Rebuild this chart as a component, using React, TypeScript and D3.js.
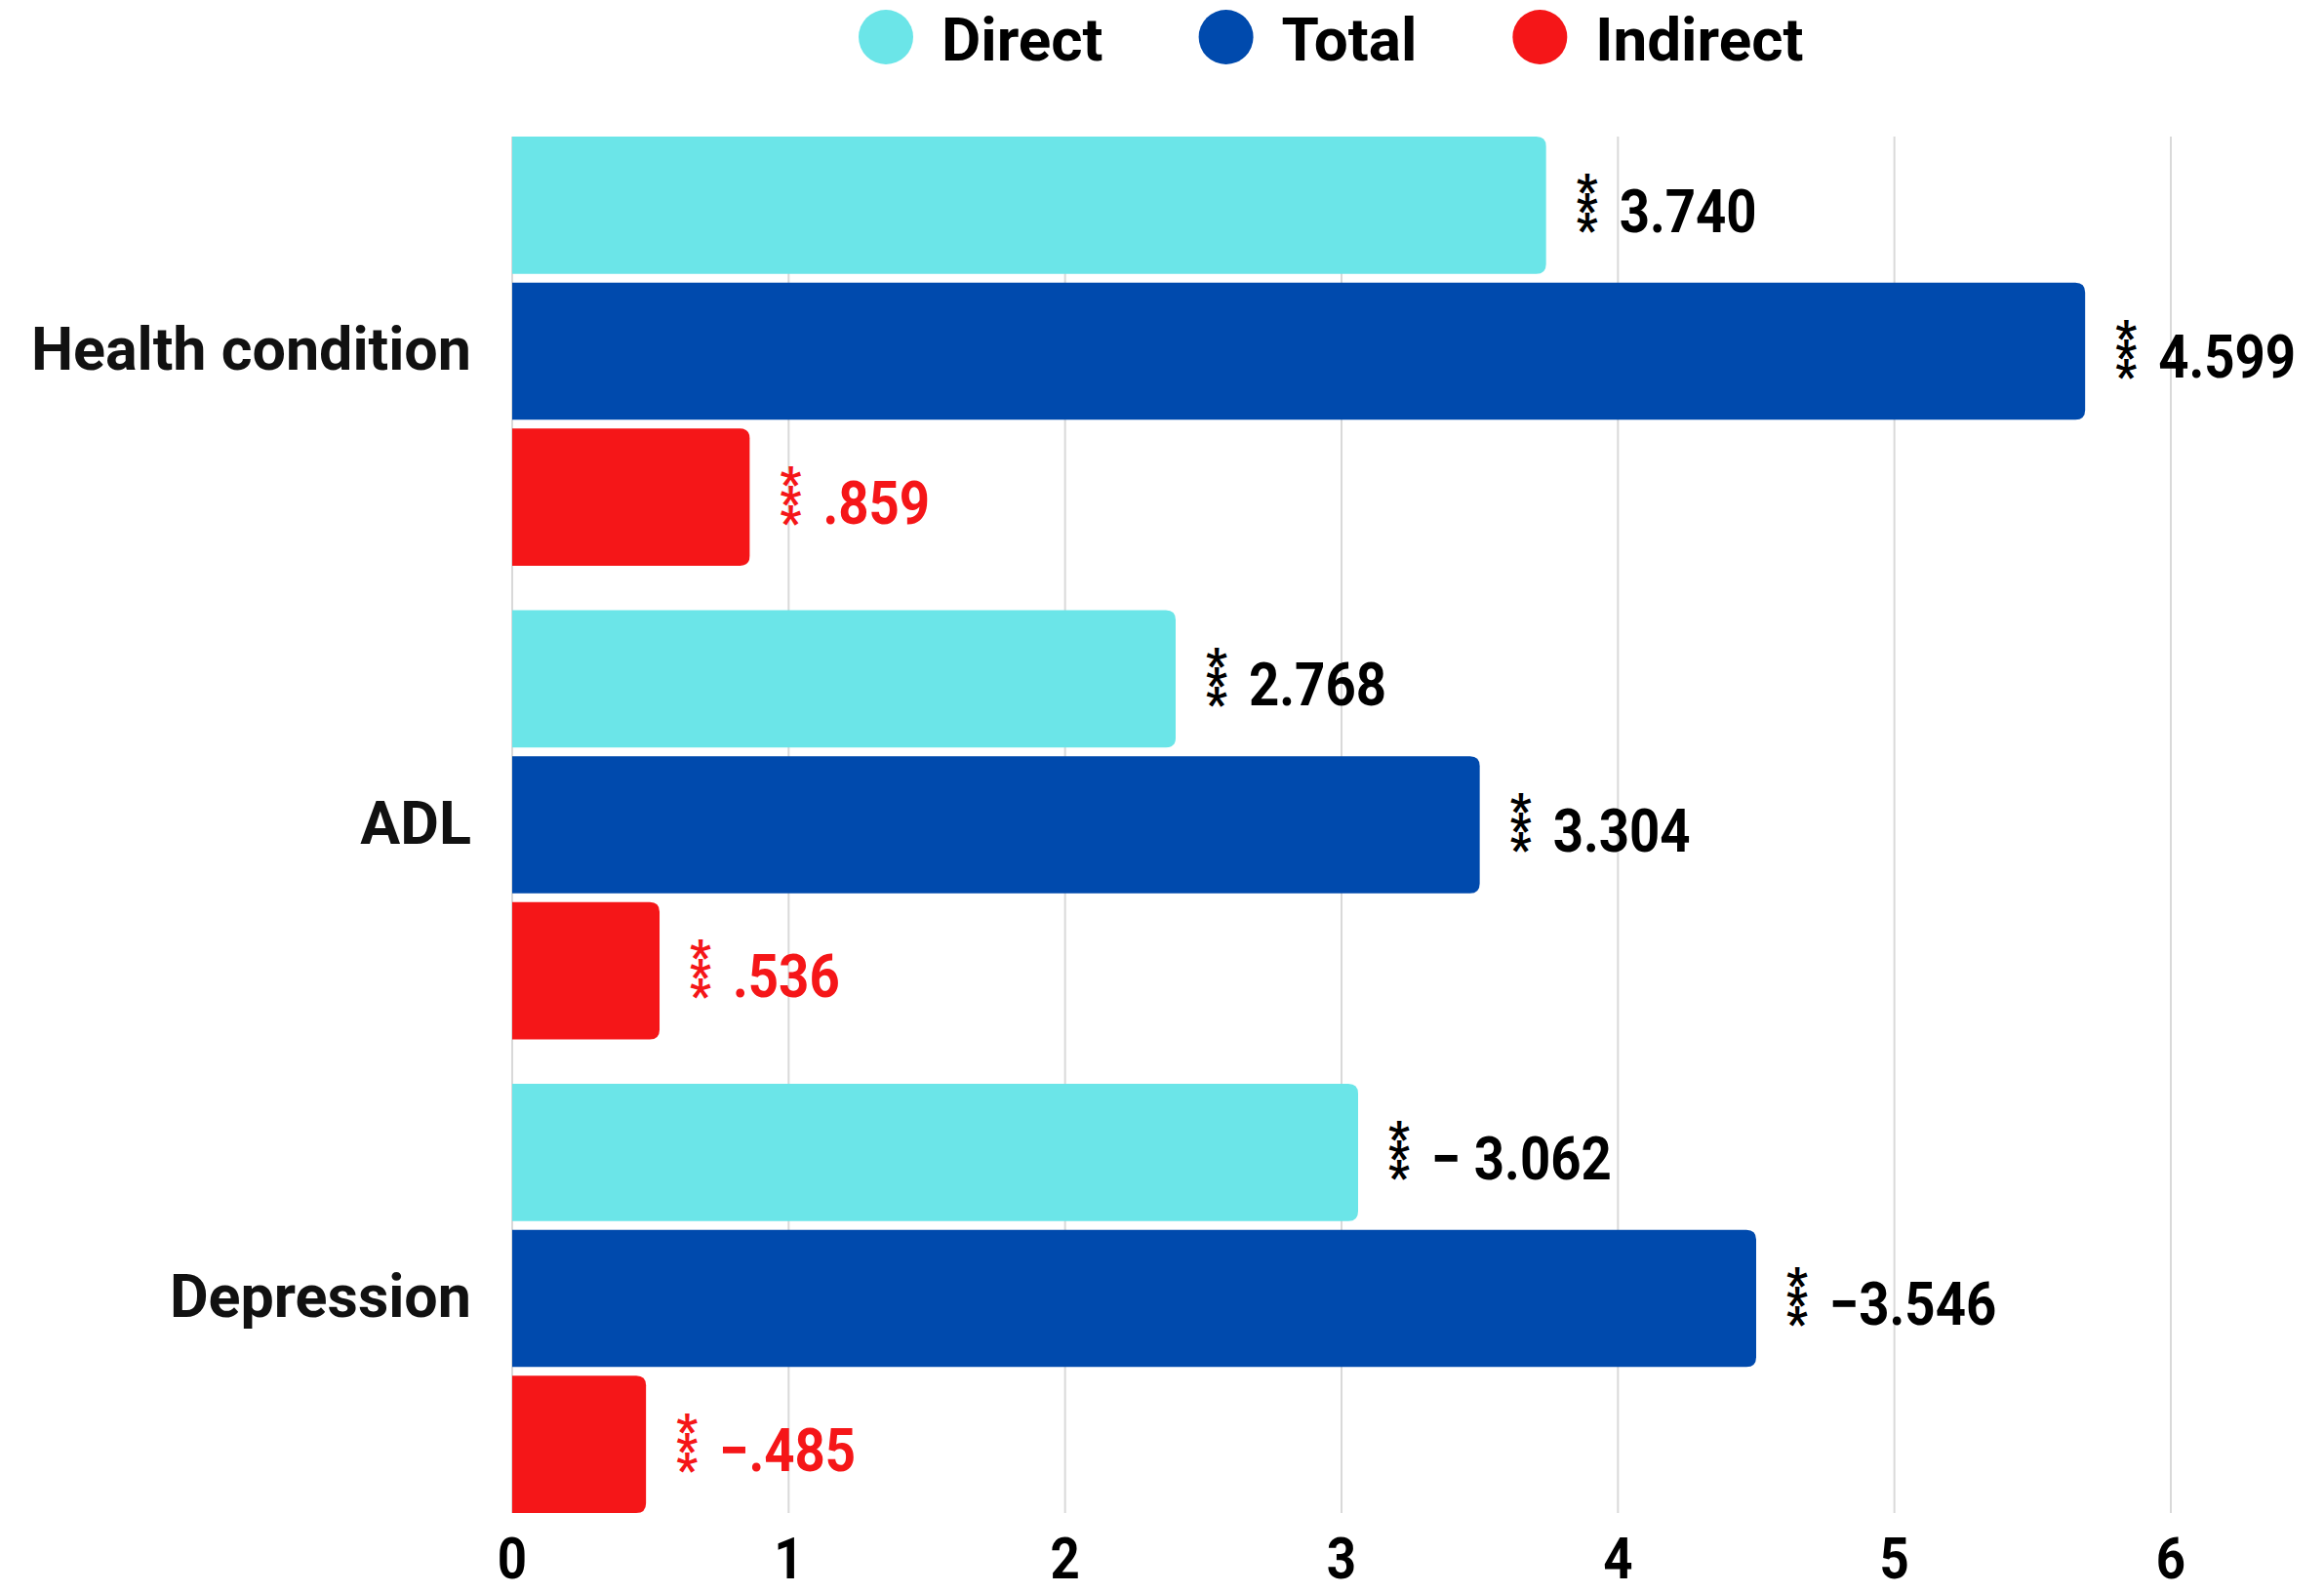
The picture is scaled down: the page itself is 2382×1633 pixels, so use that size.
import { useMemo } from "react";
import * as d3 from "d3";

const WIDTH = 2382;
const HEIGHT = 1633;
const MARGIN = { top: 140, right: 157, bottom: 82, left: 525 };

const categories = ["Health condition", "ADL", "Depression"];
const seriesKeys = ["Direct", "Total", "Indirect"];
const seriesColors = ["#6be5e8", "#004aad", "#f51618"];
const labelColors = ["#000000", "#000000", "#f51618"];

// bar lengths as drawn in the picture
const directValues = [3.74, 2.4, 3.06];
const totalValues = [5.69, 3.5, 4.5];
const indirectValues = [0.859, 0.533, 0.484];

// printed labels next to the bars
const directLabels = ["3.740", "2.768", "− 3.062"];
const totalLabels = ["4.599", "3.304", "−3.546"];
const indirectLabels = [".859", ".536", "−.485"];
const significance = ["***", "***", "***"];

const xTicks = [0, 1, 2, 3, 4, 5, 6];

const FONT = "Roboto, 'Noto Sans', sans-serif";
const STAR_SIZE = 48;
const STAR_STEP = 20;

const roundedRight = (x0: number, y: number, w: number, h: number, r: number) => {
  const rr = Math.min(r, w / 2, h / 2);
  return `M${x0},${y}H${x0 + w - rr}Q${x0 + w},${y} ${x0 + w},${y + rr}V${y + h - rr}Q${x0 + w},${y + h} ${x0 + w - rr},${y + h}H${x0}Z`;
};

const measure = (text: string, font: string) => {
  const ctx = document.createElement("canvas").getContext("2d");
  if (!ctx) return text.length * 30;
  ctx.font = font;
  return ctx.measureText(text).width;
};

const App = () => {
  const boundsWidth = WIDTH - MARGIN.left - MARGIN.right;
  const boundsHeight = HEIGHT - MARGIN.top - MARGIN.bottom;

  const values = [directValues, totalValues, indirectValues];
  const labels = [directLabels, totalLabels, indirectLabels];

  const xScale = useMemo(
    () => d3.scaleLinear().domain([0, 6]).range([0, boundsWidth]),
    [boundsWidth]
  );
  const yGroup = useMemo(
    () =>
      d3
        .scaleBand<string>()
        .domain(categories)
        .range([0, boundsHeight])
        .paddingInner(0.094)
        .paddingOuter(0),
    [boundsHeight]
  );
  const ySeries = d3
    .scaleBand<string>()
    .domain(seriesKeys)
    .range([0, yGroup.bandwidth()])
    .paddingInner(0.06);

  const grid = xTicks.map((t) => (
    <g key={t}>
      <line
        x1={xScale(t)}
        x2={xScale(t)}
        y1={0}
        y2={boundsHeight}
        stroke="#d9d9d9"
        strokeWidth={2}
      />
      <text
        transform={`translate(${xScale(t)},${boundsHeight + 67}) scale(0.88,1)`}
        textAnchor="middle"
        fontSize={60}
        fontWeight={700}
        fontFamily={FONT}
      >
        {t}
      </text>
    </g>
  ));

  const bars = categories.map((cat, ci) => {
    const gy = yGroup(cat) ?? 0;
    return (
      <g key={cat}>
        <text
          x={-42}
          y={gy + yGroup.bandwidth() / 2 - 2}
          textAnchor="end"
          dominantBaseline="central"
          fontSize={61}
          fontWeight={700}
          fontFamily={FONT}
          fill="#111"
        >
          {cat}
        </text>
        {seriesKeys.map((key, si) => {
          const v = values[si][ci];
          const y = gy + (ySeries(key) ?? 0);
          const h = ySeries.bandwidth();
          const cy = y + h / 2;
          const xEnd = xScale(v);
          const starX = xEnd + 42;
          const stars = significance[si].split("");
          const xs = stars.map(() => starX).join(" ");
          const ys = stars
            .map((_, k) => cy - 4 + (k - (stars.length - 1) / 2) * STAR_STEP + 0.54 * STAR_SIZE)
            .join(" ");
          return (
            <g key={key}>
              <path
                d={roundedRight(xScale(0), y, xEnd - xScale(0), h, 10)}
                fill={seriesColors[si]}
              />
              {/* significance stars stacked vertically, one text element */}
              <text
                x={xs}
                y={ys}
                textAnchor="middle"
                fontSize={STAR_SIZE}
                fontWeight={700}
                fontFamily={FONT}
                fill={labelColors[si]}
              >
                {significance[si]}
              </text>
              <text
                transform={`translate(${xEnd + 75},${cy + 6}) scale(0.88,1)`}
                dominantBaseline="central"
                fontSize={62}
                fontWeight={700}
                fontFamily={FONT}
                fill={labelColors[si]}
              >
                {labels[si][ci]}
              </text>
            </g>
          );
        })}
      </g>
    );
  });

  const legendFont = `700 62px Roboto`;
  let cursor = 908;
  const legend = seriesKeys.map((key, i) => {
    const cx = cursor;
    const tx = cx + 57;
    cursor = tx + measure(key, legendFont) + 126;
    return (
      <g key={key}>
        <circle cx={cx} cy={38} r={28} fill={seriesColors[i]} />
        <text
          x={tx}
          y={40}
          dominantBaseline="central"
          fontSize={62}
          fontWeight={700}
          fontFamily={FONT}
          fill="#000"
        >
          {key}
        </text>
      </g>
    );
  });

  return (
    <svg
      width={WIDTH}
      height={HEIGHT}
      style={{ position: "absolute", left: 0, top: 0, background: "#fff" }}
    >
      <g>{legend}</g>
      <g transform={`translate(${MARGIN.left},${MARGIN.top})`}>
        {grid}
        {bars}
      </g>
    </svg>
  );
};

export default App;
